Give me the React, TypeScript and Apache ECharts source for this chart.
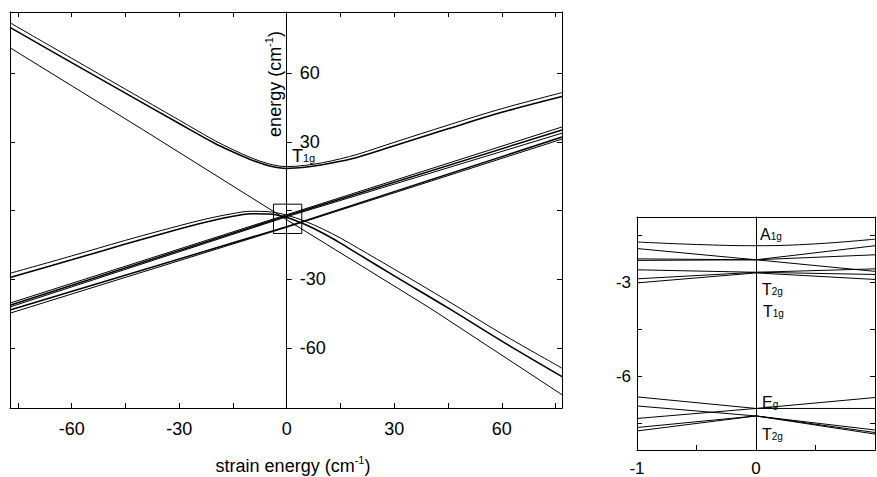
import React, { useEffect, useRef } from "react";
import * as echarts from "echarts";

const FONT = "'Liberation Sans', Arial, Helvetica, sans-serif";

// ---------- axes / ticks ----------
const mainXRange = [-77.2, 76.8];
const mainYRange = [-86.2, 86.7];
const mainXTicks = [-75, -60, -45, -30, -15, 0, 15, 30, 45, 60, 75];
const mainXLabels = [-60, -30, 0, 30, 60];
const mainYTicks = [-60, -30, 0, 30, 60];
const mainYLabels = [-60, -30, 30, 60];

const insetXRange = [-1, 1];
const insetYRange = [-8.36, -0.9];
const insetXTicks = [-0.5, 0.5];
const insetXLabels = [-1, 0];
const insetYTicks = [-1.5, -3, -4.5, -6, -7.5];
const insetYLabels = [-3, -6];

// ---------- main panel lines (strain energy, energy) ----------
const t1gUpperA = [[-77.2, 82], [-60, 66.5], [-45, 53], [-30, 39.5], [-20, 30.5], [-15, 26.6], [-10, 23.1], [-5, 20.4], [0, 19.2], [5, 19.7], [10, 20.9], [15, 22.6], [20, 24.7], [30, 29.8], [45, 37.3], [60, 44.5], [76.8, 51.5]];
const t1gUpperB = [[-77.2, 80], [-60, 64.6], [-45, 51.3], [-30, 38], [-20, 29.3], [-15, 25.6], [-10, 22.2], [-5, 19.6], [0, 18.4], [5, 18.9], [10, 20], [15, 21.5], [20, 23.4], [30, 28.3], [45, 35.7], [60, 42.9], [76.8, 49.8]];
const singleLine = [[-77.2, 71.1], [-40, 35.2], [0, -4], [40, -42.6], [76.8, -80.4]];
const t1gLowerA = [[-77.2, -27.4], [-60, -19.8], [-45, -13], [-35, -8.7], [-25, -4.6], [-20, -2.8], [-15, -1.3], [-10, -0.3], [-5, -0.5], [0, -2], [5, -4.6], [10, -8], [15, -12], [20, -16.5], [30, -25.6], [45, -39.5], [60, -53.8], [76.8, -68.8]];
const t1gLowerB = [[-77.2, -29.2], [-60, -21.5], [-45, -14.6], [-35, -10.2], [-25, -6], [-20, -4.1], [-15, -2.5], [-10, -1.4], [-5, -1.5], [0, -3], [5, -6], [10, -9.8], [15, -14.2], [20, -19], [30, -28.5], [45, -42.5], [60, -57], [76.8, -72.5]];
const ground1 = [[-77.2, -40.4], [0, -1.8], [76.8, 36.5]];
const ground2 = [[-77.2, -41.3], [0, -2.3], [76.8, 35.2]];
const ground3 = [[-77.2, -42.1], [0, -2.7], [76.8, 33.8]];
const ground4 = [[-77.2, -43.4], [0, -7.0], [76.8, 32.1]];
const ground5 = [[-77.2, -44.8], [0, -7.3], [76.8, 31.2]];
const zoomBox = [[-3.7, 2.8], [4.2, 2.8], [4.2, -10], [-3.7, -10], [-3.7, 2.8]];

// ---------- inset lines ----------
const a1g = [[-1, -1.70], [-0.5, -1.78], [0, -1.82], [0.5, -1.76], [1, -1.61]];
const upB = [[-1, -1.91], [0, -2.27], [1, -2.64]];
const upC = [[-1, -2.24], [0, -2.27], [1, -2.11]];
const upD = [[-1, -2.29], [0, -2.27], [1, -1.82]];
const upE = [[-1, -2.59], [0, -2.67], [1, -2.74]];
const upF = [[-1, -2.88], [0, -2.67], [1, -2.56]];
const upG = [[-1, -3.01], [0, -2.69], [1, -2.90]];
const loP = [[-1, -6.66], [0, -7.03], [1, -6.68]];
const loQ = [[-1, -6.95], [0, -7.27], [1, -7.72]];
const loR = [[-1, -7.35], [0, -7.03], [1, -7.03]];
const loS = [[-1, -7.64], [0, -7.27], [1, -7.85]];
const loT = [[-1, -7.75], [0, -7.27], [1, -7.80]];

const black = "#000";

const MAIN_GRID = { left: 10, top: 12, width: 552, height: 396 };
const INSET_GRID = { left: 637, top: 217, width: 238, height: 234 };
// the energy axis sits on strain = 0: shift it in from the right frame
const zeroFromRight = (MAIN_GRID.width * (mainXRange[1] - 0)) / (mainXRange[1] - mainXRange[0]);

function frameAxis(gridIndex: number, position: string, range: number[], ticks: number[], extra: any = {}) {
  return {
    type: "value",
    gridIndex,
    position,
    min: range[0],
    max: range[1],
    axisLine: { show: true, onZero: false, lineStyle: { color: black, width: 1 } },
    axisTick: { show: ticks.length > 0, inside: true, length: 5, customValues: ticks, lineStyle: { color: black, width: 1 } },
    axisLabel: { show: false },
    splitLine: { show: false },
    ...extra,
  };
}

const labelStyle = { color: black, fontFamily: FONT, fontSize: 18 };

function line(data: number[][], xi: number, yi: number, width = 1, smooth: any = false) {
  return {
    type: "line",
    data,
    xAxisIndex: xi,
    yAxisIndex: yi,
    symbol: "none",
    showSymbol: false,
    smooth,
    silent: true,
    lineStyle: { color: black, width },
  };
}

function subLabel(main: string, sub: string, x: number, y: number, size: number) {
  return {
    type: "text",
    x,
    y,
    silent: true,
    style: {
      text: `{a|${main}}{b|${sub}}`,
      rich: {
        a: { fontSize: size, fontFamily: FONT, lineHeight: 14, fill: black, color: black },
        b: { fontSize: Math.round(size * 0.62), fontFamily: FONT, lineHeight: 6, verticalAlign: "bottom", fill: black, color: black },
      },
      align: "left",
      textAlign: "left",
      verticalAlign: "middle",
      textVerticalAlign: "middle",
      fill: black,
    },
  };
}

function supTitle(main: string, sup: string, x: number, y: number, rotation: number) {
  return {
    type: "text",
    x,
    y,
    rotation,
    silent: true,
    style: {
      text: `{a|${main}}{s|${sup}}{a|)}`,
      rich: {
        a: { fontSize: 18, fontFamily: FONT, lineHeight: 24, fill: black, color: black },
        s: { fontSize: 11, fontFamily: FONT, lineHeight: 10, verticalAlign: "top", fill: black, color: black },
      },
      align: "center",
      textAlign: "center",
      verticalAlign: "middle",
      textVerticalAlign: "middle",
      fill: black,
    },
  };
}

const option: any = {
  animation: false,
  backgroundColor: "#fff",
  grid: [
    { ...MAIN_GRID, show: false },
    { ...INSET_GRID, show: false },
  ],
  xAxis: [
    frameAxis(0, "bottom", mainXRange, mainXTicks, {
      axisLabel: { show: true, customValues: mainXLabels, margin: 12, ...labelStyle },
    }),
    frameAxis(0, "top", mainXRange, mainXTicks),
    frameAxis(1, "bottom", insetXRange, insetXTicks, {
      axisLabel: { show: true, customValues: insetXLabels, margin: 10, ...labelStyle, fontSize: 17 },
    }),
    frameAxis(1, "top", insetXRange, []),
  ],
  yAxis: [
    {
      type: "value",
      gridIndex: 0,
      position: "right",
      offset: -zeroFromRight,
      min: mainYRange[0],
      max: mainYRange[1],
      axisLine: { show: true, onZero: false, lineStyle: { color: black, width: 1 } },
      axisTick: { show: true, inside: false, length: 5, customValues: mainYTicks, lineStyle: { color: black } },
      axisLabel: { show: true, customValues: mainYLabels, margin: 13, lineHeight: 14, ...labelStyle },
      splitLine: { show: false },
    },
    frameAxis(0, "left", mainYRange, mainYTicks),
    frameAxis(0, "right", mainYRange, mainYTicks),
    frameAxis(1, "left", insetYRange, insetYTicks, {
      axisLabel: { show: true, customValues: insetYLabels, margin: 6, ...labelStyle, fontSize: 17 },
    }),
    frameAxis(1, "right", insetYRange, insetYTicks),
    {
      type: "value",
      gridIndex: 1,
      position: "left",
      min: insetYRange[0],
      max: insetYRange[1],
      axisLine: { show: true, onZero: true, onZeroAxisIndex: 2, lineStyle: { color: black, width: 1 } },
      axisTick: { show: false },
      axisLabel: { show: false },
      splitLine: { show: false },
    },
  ],
  series: [
    line(t1gUpperA, 0, 1, 1, 0.35),
    line(t1gUpperB, 0, 1, 1.6, 0.35),
    line(singleLine, 0, 1, 1),
    line(t1gLowerA, 0, 1, 1, 0.35),
    line(t1gLowerB, 0, 1, 1.6, 0.35),
    line(ground1, 0, 1, 1),
    line(ground2, 0, 1, 1.5),
    line(ground3, 0, 1, 1),
    line(ground4, 0, 1, 1.5),
    line(ground5, 0, 1, 1),
    line(zoomBox, 0, 1, 1),
    line(a1g, 2, 3, 1, 0.4),
    line(upB, 2, 3, 1),
    line(upC, 2, 3, 1),
    line(upD, 2, 3, 1),
    line(upE, 2, 3, 1),
    line(upF, 2, 3, 1),
    line(upG, 2, 3, 1),
    line(loP, 2, 3, 1),
    line(loQ, 2, 3, 1),
    line(loR, 2, 3, 1),
    line(loS, 2, 3, 1),
    line(loT, 2, 3, 1),
  ],
  graphic: [
    supTitle("strain energy (cm", "-1", 293, 466, 0),
    supTitle("energy (cm", "-1", 275, 84, Math.PI / 2),
    subLabel("T", "1g", 292, 156, 18),
    subLabel("A", "1g", 760, 234, 16),
    subLabel("T", "2g", 762, 289, 16),
    subLabel("T", "1g", 763, 311, 16),
    subLabel("E", "g", 762, 402, 16),
    subLabel("T", "2g", 762, 434, 16),
  ],
};

export default function App() {
  const ref = useRef<HTMLDivElement>(null);
  useEffect(() => {
    const chart = echarts.init(ref.current as HTMLDivElement, null, { renderer: "svg", width: 877, height: 477 });
    chart.setOption(option);
    return () => chart.dispose();
  }, []);
  return (
    <div
      ref={ref}
      style={{ position: "fixed", left: 0, top: 0, width: 877, height: 477, background: "#fff" }}
    />
  );
}
